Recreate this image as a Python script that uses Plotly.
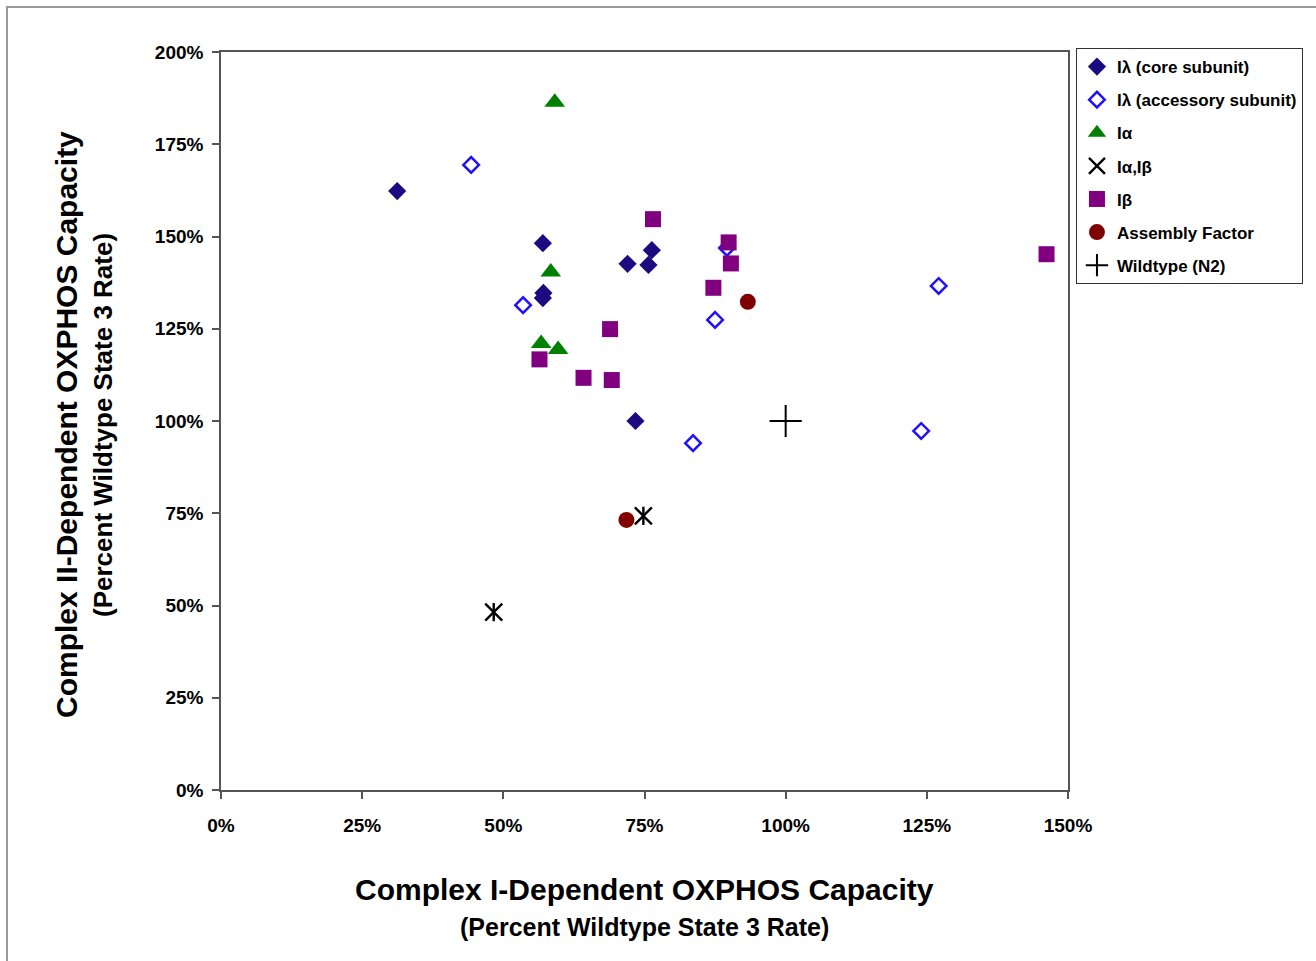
import plotly.graph_objects as go

# ---- data (percent of wildtype) ----
core_x = [31.2, 57.0, 57.1, 57.0, 72.0, 76.3, 75.7, 73.4]
core_y = [162.3, 148.2, 134.7, 133.3, 142.6, 146.3, 142.3, 100.0]

acc_x = [44.3, 53.5, 89.6, 87.5, 83.6, 124.0, 127.1]
acc_y = [169.4, 131.4, 146.9, 127.4, 94.0, 97.3, 136.6]

ia_x = [59.1, 58.4, 56.7, 59.7]
ia_y = [186.4, 140.4, 121.0, 119.4]

iab_x = [48.3, 74.8]
iab_y = [48.2, 74.3]

ib_x = [76.5, 89.9, 90.3, 87.2, 68.9, 56.4, 64.2, 69.2, 146.2]
ib_y = [154.7, 148.4, 142.7, 136.1, 124.9, 116.7, 111.7, 111.1, 145.2]

af_x = [93.3, 71.8]
af_y = [132.3, 73.2]

wt_x = [100.0]
wt_y = [100.0]

x_ticks = [0, 25, 50, 75, 100, 125, 150]
y_ticks = [0, 25, 50, 75, 100, 125, 150, 175, 200]

FONT = "Liberation Sans, Arial, sans-serif"

fig = go.Figure()

series = [
    ("Iλ (core subunit)", core_x, core_y, dict(symbol="diamond", size=14, color="#1c0a80")),
    ("Iλ (accessory subunit)", acc_x, acc_y, dict(symbol="diamond-open", size=12, color="#2010ff",
                                                   line=dict(width=2.5, color="#2010ff"))),
    ("Iα", ia_x, ia_y, dict(symbol="triangle-up", size=18, color="#008000")),
    ("Iα,Iβ", iab_x, iab_y, dict(symbol="x-thin-open", size=17, color="black",
                                  line=dict(width=2.4, color="black"))),
    ("Iβ", ib_x, ib_y, dict(symbol="square", size=16, color="#800080")),
    ("Assembly Factor", af_x, af_y, dict(symbol="circle", size=16, color="#800000")),
    ("Wildtype (N2)", wt_x, wt_y, dict(symbol="cross-thin-open", size=23, color="black",
                                        line=dict(width=2, color="black"))),
]

for i, (name, xs, ys, mk) in enumerate(series):
    fig.add_trace(go.Scatter(x=xs, y=ys, mode="markers", name=name, marker=mk,
                             legendgroup=f"g{i}"))
    if name == "Iα,Iβ":
        # vertical arm of the six-armed asterisk
        fig.add_trace(go.Scatter(x=xs, y=ys, mode="markers", name=name, showlegend=False,
                                 legendgroup=f"g{i}",
                                 marker=dict(symbol="line-ns-open", size=13, color="black",
                                             line=dict(width=2.4, color="black"))))

axis_common = dict(
    showgrid=False, zeroline=False, showline=True, linecolor="#555555", linewidth=1.5,
    mirror=True, ticks="outside", ticklen=7, tickcolor="#555555", tickwidth=1.5,
    tickfont=dict(family=FONT, size=19, color="black", weight="bold"),
)

fig.update_xaxes(range=[0, 150], tickvals=x_ticks, ticktext=[f"{v}%" for v in x_ticks],
                 ticklabelstandoff=10, **axis_common)
fig.update_yaxes(range=[0, 200], tickvals=y_ticks, ticktext=[f"{v}%" for v in y_ticks],
                 ticklabelstandoff=5, **axis_common)

fig.update_layout(
    width=1316, height=961,
    margin=dict(l=221, r=248, t=52, b=171),
    paper_bgcolor="white", plot_bgcolor="white",
    font=dict(family=FONT, color="black"),
    legend=dict(
        x=1.0094, y=1.0054, xanchor="left", yanchor="top",
        bordercolor="#333333", borderwidth=1,
        font=dict(family=FONT, size=17, color="black", weight="bold"),
        tracegroupgap=8, itemwidth=30,
    ),
    annotations=[
        dict(text="Complex I-Dependent OXPHOS Capacity", x=0.5, y=0, xref="paper", yref="paper",
             xanchor="center", yanchor="middle", yshift=-99, showarrow=False,
             font=dict(family=FONT, size=30, color="black", weight="bold")),
        dict(text="(Percent Wildtype State 3 Rate)", x=0.5, y=0, xref="paper", yref="paper",
             xanchor="center", yanchor="middle", yshift=-137, showarrow=False,
             font=dict(family=FONT, size=25, color="black", weight="bold")),
        dict(text="Complex II-Dependent OXPHOS Capacity", x=0, y=0.4946, xref="paper", yref="paper",
             xanchor="center", yanchor="middle", xshift=-154, textangle=-90, showarrow=False,
             font=dict(family=FONT, size=30, color="black", weight="bold")),
        dict(text="(Percent Wildtype State 3 Rate)", x=0, y=0.4946, xref="paper", yref="paper",
             xanchor="center", yanchor="middle", xshift=-118, textangle=-90, showarrow=False,
             font=dict(family=FONT, size=26, color="black", weight="bold")),
    ],
    shapes=[
        dict(type="rect", xref="paper", yref="paper", x0=-0.2527, y0=-0.25, x1=1.32, y1=1.061,
             line=dict(color="#999999", width=2), fillcolor="rgba(0,0,0,0)", layer="below"),
    ],
)

fig.write_html("out.html")
